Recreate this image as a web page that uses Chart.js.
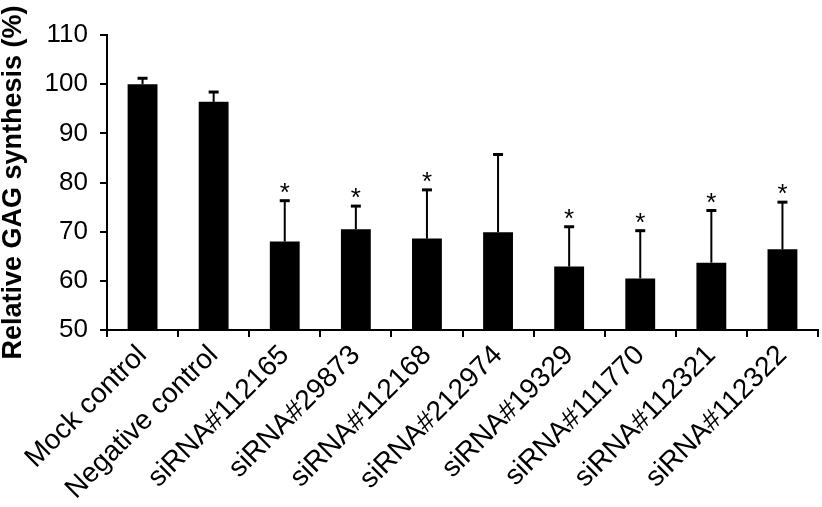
<!DOCTYPE html>
<html lang="en">
<head>
<meta charset="UTF-8">
<title>Relative GAG synthesis</title>
<script src="https://cdn.jsdelivr.net/npm/chart.js"></script>
<style>
  html, body { margin: 0; padding: 0; background: #fff; }
  #wrap { position: relative; width: 822px; height: 507px; }
</style>
</head>
<body>
<div id="wrap"><canvas id="gagChart"></canvas></div>
<script>
// values
const categories = ['Mock control', 'Negative control', 'siRNA#112165', 'siRNA#29873', 'siRNA#112168',
  'siRNA#212974', 'siRNA#19329', 'siRNA#111770', 'siRNA#112321', 'siRNA#112322'];
const meanValues = [100.0, 96.4, 68.0, 70.5, 68.6, 69.9, 62.9, 60.5, 63.7, 66.4];
const upperError = [1.2, 2.0, 8.3, 4.7, 9.9, 15.8, 8.1, 9.7, 10.6, 9.6];
const significant = [false, false, true, true, true, false, true, true, true, true];
const yTicks = [50, 60, 70, 80, 90, 100, 110];

const FONT = '"Liberation Sans", Arial, sans-serif';

// error bars (upper only) and asterisks
const errorBars = {
  id: 'errorBars',
  afterDatasetsDraw(chart) {
    const ctx = chart.ctx;
    const yScale = chart.scales.y;
    const meta = chart.getDatasetMeta(0);
    ctx.save();
    ctx.strokeStyle = '#000';
    ctx.fillStyle = '#000';
    meta.data.forEach((bar, i) => {
      const x = bar.x;
      const yBar = yScale.getPixelForValue(meanValues[i]);
      const yTop = yScale.getPixelForValue(meanValues[i] + upperError[i]);
      ctx.lineWidth = 2;
      ctx.beginPath();
      ctx.moveTo(x, yBar);
      ctx.lineTo(x, yTop);
      ctx.stroke();
      ctx.lineWidth = 3;
      ctx.beginPath();
      ctx.moveTo(x - 5, yTop);
      ctx.lineTo(x + 5, yTop);
      ctx.stroke();
      if (significant[i]) {
        ctx.font = '26px ' + FONT;
        ctx.textAlign = 'center';
        ctx.textBaseline = 'middle';
        ctx.fillText('*', x, yTop - 7);
      }
    });
    ctx.restore();
  }
};

new Chart(document.getElementById('gagChart'), {
  type: 'bar',
  data: {
    labels: categories,
    datasets: [{
      data: meanValues,
      backgroundColor: '#000',
      borderWidth: 0,
      barPercentage: 0.42,
      categoryPercentage: 1.0
    }]
  },
  options: {
    responsive: true,
    maintainAspectRatio: false,
    animation: false,
    layout: { padding: { top: 35, right: 4, left: 0, bottom: 0 } },
    plugins: {
      legend: { display: false },
      tooltip: { enabled: false }
    },
    scales: {
      x: {
        afterFit: s => { s.height = 177; },
        border: { display: true, color: '#000', width: 2 },
        grid: { display: true, drawOnChartArea: false, drawTicks: true, tickLength: 7, color: '#000', tickColor: '#000', tickWidth: 2, lineWidth: 2, offset: true },
        ticks: {
          color: '#000',
          font: { family: FONT, size: 28 },
          minRotation: 45,
          maxRotation: 45,
          autoSkip: false,
          padding: 2
        }
      },
      y: {
        min: 50,
        max: 110,
        afterFit: s => { s.width = 107; },
        afterBuildTicks: s => { s.ticks = yTicks.map(v => ({ value: v })); },
        border: { display: true, color: '#000', width: 2 },
        grid: { display: true, drawOnChartArea: false, drawTicks: true, tickLength: 7, color: '#000', tickColor: '#000', tickWidth: 2, lineWidth: 2 },
        ticks: {
          color: '#000',
          font: { family: FONT, size: 26 },
          padding: 12
        },
        title: {
          display: true,
          text: 'Relative GAG synthesis (%)',
          color: '#000',
          font: { family: FONT, size: 27, weight: 'bold', lineHeight: 1 },
          padding: 0
        }
      }
    }
  },
  plugins: [errorBars]
});
</script>
</body>
</html>
